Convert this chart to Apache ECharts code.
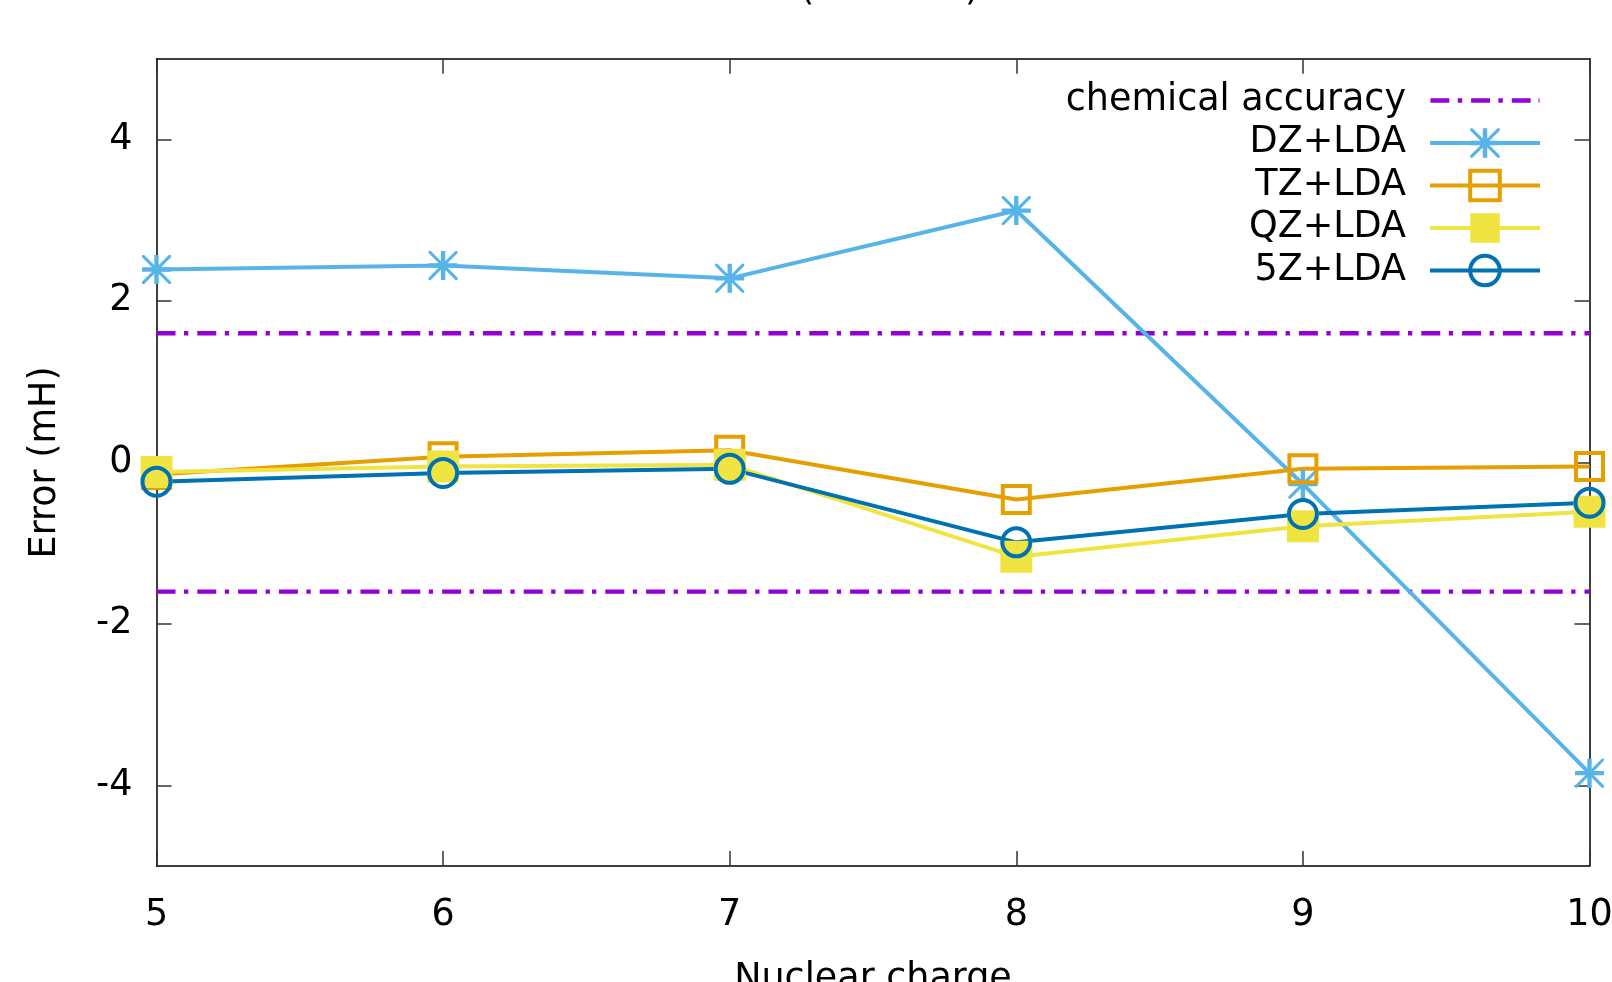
<!DOCTYPE html>
<html><head><meta charset="utf-8">
<script src="https://cdn.jsdelivr.net/npm/echarts@6/dist/echarts.min.js"></script>
<style>html,body{margin:0;padding:0;background:#fff}#c{width:1612px;height:982px}</style>
</head><body><div id="c"></div>
<script>
const nuclearCharge = [5, 6, 7, 8, 9, 10];
const dzLda = [2.39, 2.44, 2.28, 3.12, -0.27, -3.85];
const tzLda = [-0.15, 0.07, 0.15, -0.46, -0.08, -0.05];
const qzLda = [-0.12, -0.05, -0.03, -1.17, -0.79, -0.61];
const fiveZLda = [-0.24, -0.13, -0.08, -0.99, -0.64, -0.50];
const chemicalAccuracy = 1.6;
const yTickValues = [-4, -2, 0, 2, 4];
const seriesNames = ['chemical accuracy', 'DZ+LDA', 'TZ+LDA', 'QZ+LDA', '5Z+LDA'];

const FONT = 'DejaVu Sans';
const FS = 36.5;
const LW = 4;
const DASH = [19, 8.5, 4.3, 9];
const pairs = ys => nuclearCharge.map((x, i) => [x, ys[i]]);

const asteriskPath = 'path://M42.5 0H57.5V100H42.5Z M0 42.5H100V57.5H0Z M0 0L7.5 0L100 92.5L100 100L92.5 100L0 7.5Z M100 0L100 7.5L7.5 100L0 100L0 92.5L92.5 0Z';
const dashDotIcon = 'path://M0 -16.5h0.01v0.01h-0.01z M0 0h19v4.3h-19z M27.5 0h4.5v4.3h-4.5z M41 0h19v4.3h-19z M68.5 0h4.5v4.3h-4.5z M82 0h19v4.3h-19z M109 0h1v4.3h-1z M0 20.8h0.01v0.01h-0.01z';

const axisCommon = {
  axisLine: { show: true, onZero: false, lineStyle: { color: '#000', width: 1.5 } },
  axisTick: { show: true, inside: true, length: 15, lineStyle: { color: '#333', width: 1.5 } },
  splitLine: { show: false }
};

const chart = echarts.init(document.getElementById('c'), null, { renderer: 'canvas' });
chart.setOption({
  animation: false,
  backgroundColor: '#fff',
  textStyle: { fontFamily: FONT },
  title: {
    text: '(             )',
    left: 795, top: -33,
    textStyle: { fontFamily: FONT, fontSize: FS, fontWeight: 'normal', color: '#000' }
  },
  grid: { left: 156.5, right: 22.5, top: 58.8, bottom: 116, containLabel: false, outerBoundsMode: 'none' },
  legend: {
    orient: 'vertical', align: 'right', right: 70, top: 82, padding: 0,
    itemWidth: 110, itemHeight: 37, itemGap: 5.5,
    textStyle: { fontFamily: FONT, fontSize: FS, lineHeight: 37, color: '#000', padding: [0, 19, 0, 0] },
    data: [
      { name: seriesNames[0], icon: dashDotIcon },
      { name: seriesNames[1], lineStyle: { width: LW } },
      { name: seriesNames[2], lineStyle: { width: LW }, itemStyle: { borderWidth: 4 } },
      { name: seriesNames[3], lineStyle: { width: LW } },
      { name: seriesNames[4], lineStyle: { width: LW }, itemStyle: { borderWidth: 4 } }
    ],
    selectedMode: false
  },
  xAxis: [
    Object.assign({}, axisCommon, {
      type: 'value', min: 5, max: 10, interval: 1, position: 'bottom',
      name: 'Nuclear charge', nameLocation: 'middle', nameGap: 95,
      nameTextStyle: { fontFamily: FONT, fontSize: FS, color: '#000' },
      axisLabel: { fontFamily: FONT, fontSize: FS, color: '#000', margin: 31 }
    }),
    Object.assign({}, axisCommon, {
      type: 'value', min: 5, max: 10, interval: 1, position: 'top',
      axisLabel: { show: false }
    })
  ],
  yAxis: [
    Object.assign({}, axisCommon, {
      type: 'value', min: -5, max: 5, position: 'left',
      name: 'Error (mH)', nameLocation: 'middle', nameGap: 92,
      nameTextStyle: { fontFamily: FONT, fontSize: FS, color: '#000' },
      axisTick: Object.assign({}, axisCommon.axisTick, { customValues: yTickValues }),
      axisLabel: { fontFamily: FONT, fontSize: FS, color: '#000', margin: 24, customValues: yTickValues }
    }),
    Object.assign({}, axisCommon, {
      type: 'value', min: -5, max: 5, position: 'right',
      axisTick: Object.assign({}, axisCommon.axisTick, { customValues: yTickValues }),
      axisLabel: { show: false, customValues: yTickValues }
    })
  ],
  series: [
    {
      name: seriesNames[0], type: 'line', symbol: 'none', silent: true,
      color: '#9400d3',
      lineStyle: { color: '#9400d3', width: 4.3, type: DASH },
      data: [[nuclearCharge[0], chemicalAccuracy], [nuclearCharge[nuclearCharge.length - 1], chemicalAccuracy]]
    },
    {
      name: seriesNames[0], type: 'line', symbol: 'none', silent: true,
      color: '#9400d3',
      lineStyle: { color: '#9400d3', width: 4.3, type: DASH },
      data: [[nuclearCharge[0], -chemicalAccuracy], [nuclearCharge[nuclearCharge.length - 1], -chemicalAccuracy]]
    },
    {
      name: seriesNames[1], type: 'line', symbol: asteriskPath, symbolSize: 29, showAllSymbol: true,
      color: '#56b4e9',
      lineStyle: { color: '#56b4e9', width: LW },
      itemStyle: { color: '#56b4e9', borderWidth: 0 },
      data: pairs(dzLda)
    },
    {
      name: seriesNames[2], type: 'line', symbol: 'rect', symbolSize: 27, showAllSymbol: true,
      color: '#e69f00',
      lineStyle: { color: '#e69f00', width: LW },
      itemStyle: { color: 'rgba(255,255,255,0)', borderColor: '#e69f00', borderWidth: 4 },
      data: pairs(tzLda)
    },
    {
      name: seriesNames[3], type: 'line', symbol: 'rect', symbolSize: 32, showAllSymbol: true,
      color: '#f0e442',
      lineStyle: { color: '#f0e442', width: LW },
      itemStyle: { color: '#f0e442', borderWidth: 0 },
      data: pairs(qzLda)
    },
    {
      name: seriesNames[4], type: 'line', symbol: 'circle', symbolSize: 28, showAllSymbol: true,
      color: '#0072b2',
      lineStyle: { color: '#0072b2', width: LW },
      itemStyle: { color: 'rgba(255,255,255,0)', borderColor: '#0072b2', borderWidth: 4 },
      data: pairs(fiveZLda)
    }
  ]
});
</script></body></html>
